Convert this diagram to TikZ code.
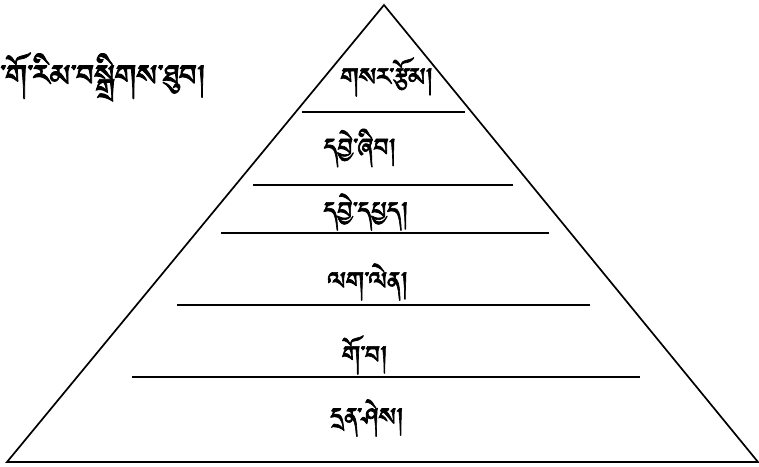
\documentclass[tikz,border=0pt]{standalone}
\usepackage{fontspec}
\newfontfamily\tibfont[Script=Tibetan,FakeBold=2]{Jomolhari}
\usetikzlibrary{positioning}
\tikzset{
  tier/.style={line width=1.7pt},
  tierlabel/.style={font=\tibfont\fontsize{32}{36}\selectfont,inner sep=0pt}
}
\begin{document}
\begin{tikzpicture}[x=1pt,y=1pt]
  \useasboundingbox (0,0) rectangle (759,466);
  % outline
  \coordinate (apex) at (384,461);
  \coordinate (bl) at (7,4);
  \coordinate (br) at (758,4);
  \draw[tier] (bl) -- (apex) -- (br) -- cycle;
  % dividers
  \draw[tier] (302,354) -- (465,354);
  \draw[tier] (253,281) -- (513,281);
  \draw[tier] (221,233) -- (549,233);
  \draw[tier] (177,161) -- (590,161);
  \draw[tier] (132,89) -- (640,89);
  % levels
  \node[tierlabel] (create) at (387,389) {གསར་རྩོམ།};
  \node[tierlabel] (evaluate) at (360,318) {དབྱེ་ཞིབ།};
  \node[tierlabel] (analyse) at (366,254) {དབྱེ་དཔྱད།};
  \node[tierlabel] (apply) at (368,184) {ལག་ལེན།};
  \node[tierlabel] (understand) at (365,111) {གོ་བ།};
  \node[tierlabel] (remember) at (367,48) {དྲན་ཤེས།};
  \node[tierlabel,font=\tibfont\fontsize{38}{42}\selectfont,anchor=west] (caption) at (0,389) {་གོ་རིམ་བསྒྲིགས་ཐུབ།};
\end{tikzpicture}
\end{document}
